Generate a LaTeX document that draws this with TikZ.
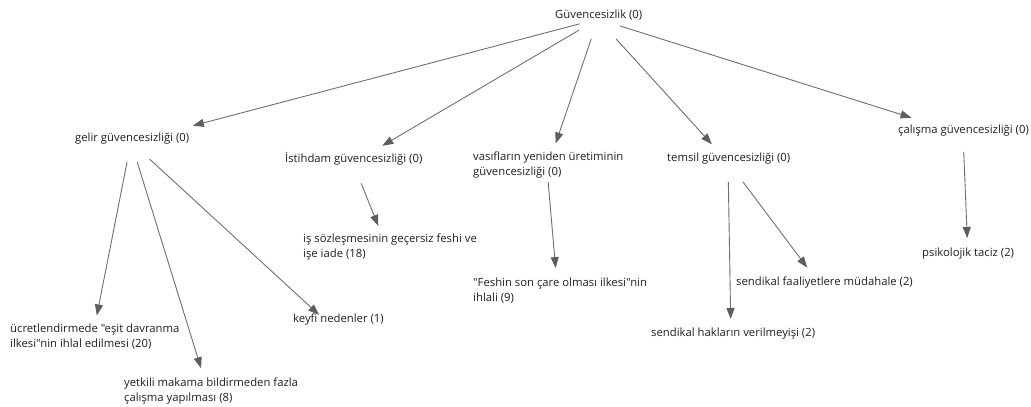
\documentclass[tikz,border=0pt]{standalone}
\usepackage{fontspec}
\newfontfamily\lblfont{Open Sans}
\usetikzlibrary{arrows.meta}
\definecolor{txt}{HTML}{1E1E1E}
\definecolor{edgec}{HTML}{6E6E6E}
\definecolor{tipc}{HTML}{5E5E5E}
\begin{document}
\begin{tikzpicture}[x=1pt,y=-1pt,
  lbl/.style={anchor=base west,inner sep=0pt,align=left,text=txt,
    font=\lblfont\fontsize{11.3}{15}\selectfont},
  arr/.style={draw=edgec,line width=0.9pt,
    -{Triangle[length=11pt,width=8pt,color=tipc]}}]
\useasboundingbox (0,0) rectangle (1031,407);
% labels (two-line labels are placed by the baseline of their last line)
\node[lbl] (root) at (555,18) {Güvencesizlik (0)};
\node[lbl] (gelir) at (75,141) {gelir güvencesizliği (0)};
\node[lbl] (ist) at (285,162) {İstihdam güvencesizliği (0)};
\node[lbl] (vasif) at (473,175) {vasıfların yeniden üretiminin\\güvencesizliği (0)};
\node[lbl] (temsil) at (667,161) {temsil güvencesizliği (0)};
\node[lbl] (calisma) at (898,133) {çalışma güvencesizliği (0)};
\node[lbl] (is) at (303,257) {iş sözleşmesinin geçersiz feshi ve\\işe iade (18)};
\node[lbl] (feshin) at (473,301) {"Feshin son çare olması ilkesi"nin\\ihlali (9)};
\node[lbl] (ucret) at (10,347) {ücretlendirmede "eşit davranma\\ilkesi"nin ihlal edilmesi (20)};
\node[lbl] (keyfi) at (293,322) {keyfi nedenler (1)};
\node[lbl] (yetkili) at (124,401) {yetkili makama bildirmeden fazla\\çalışma yapılması (8)};
\node[lbl] (faaliyet) at (736,285) {sendikal faaliyetlere müdahale (2)};
\node[lbl] (haklar) at (651,336) {sendikal hakların verilmeyişi (2)};
\node[lbl] (psiko) at (922,256) {psikolojik taciz (2)};
% edge anchor points
\coordinate (rootA) at (598,19);
\coordinate (gelirA) at (131,142);
\coordinate (istA) at (353,163);
\coordinate (vasifA) at (547,169);
\coordinate (temsilA) at (728,162);
\coordinate (calismaA) at (963,134);
\coordinate (isA) at (388,250);
\coordinate (feshinA) at (558,295);
\coordinate (ucretA) at (92,340);
\coordinate (keyfiA) at (328,323);
\coordinate (yetkiliA) at (209,394);
\coordinate (faaliyetA) at (821,286);
\coordinate (haklarA) at (731,337);
\coordinate (psikoA) at (968,257);
% connectors
\draw[arr,shorten <=19pt,shorten >=64pt] (rootA) -- (gelirA);
\draw[arr,shorten <=22pt,shorten >=34pt] (rootA) -- (istA);
\draw[arr,shorten <=21pt,shorten >=27pt] (rootA) -- (vasifA);
\draw[arr,shorten <=27pt,shorten >=24pt] (rootA) -- (temsilA);
\draw[arr,shorten <=23pt,shorten >=54pt] (rootA) -- (calismaA);
\draw[arr,shorten <=20pt,shorten >=25pt] (gelirA) -- (ucretA);
\draw[arr,shorten <=21pt,shorten >=27pt] (gelirA) -- (yetkiliA);
\draw[arr,shorten <=25pt,shorten >=12pt] (gelirA) -- (keyfiA);
\draw[arr,shorten <=22pt,shorten >=26pt] (istA) -- (isA);
\draw[arr,shorten <=13pt,shorten >=27pt] (vasifA) -- (feshinA);
\draw[arr,shorten <=20pt,shorten >=18pt] (temsilA) -- (haklarA);
\draw[arr,shorten <=25pt,shorten >=23pt] (temsilA) -- (faaliyetA);
\draw[arr,shorten <=18pt,shorten >=19pt] (calismaA) -- (psikoA);
\end{tikzpicture}
\end{document}
